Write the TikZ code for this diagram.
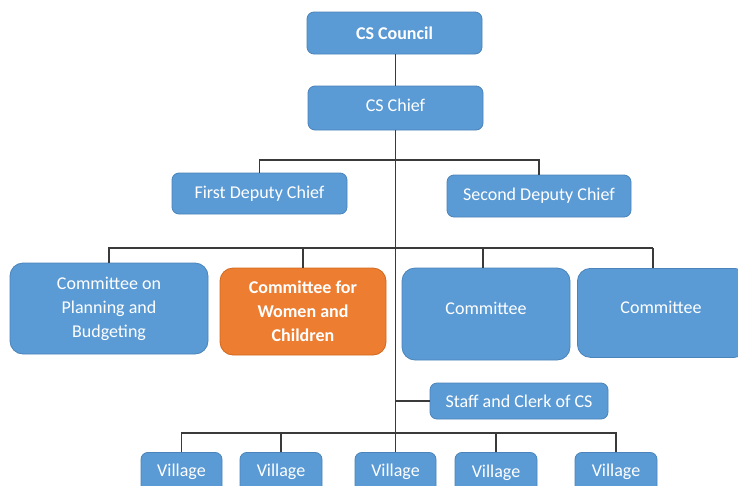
\documentclass[tikz,border=0pt]{standalone}
\usepackage{fontspec}
\setmainfont{Carlito}
\usetikzlibrary{calc}
\definecolor{boxblue}{HTML}{5B9BD5}
\definecolor{boxblueline}{HTML}{4A84BA}
\definecolor{boxorange}{HTML}{ED7D31}
\definecolor{boxorangeline}{HTML}{D0691F}
\definecolor{linkgray}{HTML}{3A3A3A}
\tikzset{
  box/.style={draw=boxblueline, fill=boxblue, line width=0.8pt, rounded corners=7pt,
    text=white, font=\fontsize{18}{24}\selectfont, align=center, inner sep=0pt},
  bigbox/.style={box, rounded corners=13pt},
  orangebox/.style={bigbox, draw=boxorangeline, fill=boxorange, font=\fontsize{18}{24}\selectfont\bfseries},
  boxtext/.style={text=white, font=\fontsize{18}{24}\selectfont},
  link/.style={draw=linkgray, line width=1.1pt}
}
\begin{document}
\begin{tikzpicture}[x=1pt,y=-1pt]
\clip (0,0) rectangle (738,485);
\fill[white] (0,0) rectangle (738,485);
% nodes
\node[box, font=\fontsize{18}{24}\selectfont\bfseries, minimum width=175pt, minimum height=42pt] (council) at (394.5,33) {CS Council};
\node[box, minimum width=175pt, minimum height=44pt] (chief) at (395.5,108) {};
\node[boxtext] (chieft) at (395.5,105) {CS Chief};
\node[box, minimum width=175pt, minimum height=41pt] (d1) at (259.5,193.5) {First Deputy Chief};
\node[box, minimum width=184pt, minimum height=42pt] (d2) at (539,196) {Second Deputy Chief};
\node[bigbox, minimum width=198pt, minimum height=91pt] (c1) at (109,308.5) {Committee on\\Planning and\\Budgeting};
\node[orangebox, minimum width=166pt, minimum height=87pt] (c2) at (303,311.5) {Committee for\\Women and\\Children};
\node[bigbox, minimum width=168pt, minimum height=92pt] (c3) at (486,314) {};
\node[boxtext] (c3t) at (486,308) {Committee};
\node[bigbox, minimum width=170pt, minimum height=89pt, anchor=north west] (c4) at (577,268) {};
\node[boxtext] (c4t) at (661,307) {Committee};
\node[box, minimum width=178pt, minimum height=36pt] (staff) at (519,401) {Staff and Clerk of CS};
\node[box, minimum width=81pt, minimum height=42pt, anchor=north] (v1) at (181.5,452) {};
\node[box, minimum width=82pt, minimum height=42pt, anchor=north] (v2) at (281,452) {};
\node[box, minimum width=81pt, minimum height=42pt, anchor=north] (v3) at (395.5,452) {};
\node[box, minimum width=82pt, minimum height=42pt, anchor=north] (v4) at (496,452) {};
\node[box, minimum width=82pt, minimum height=42pt, anchor=north] (v5) at (616,452) {};
\node[boxtext] (v1t) at ($(v1.north)+(0,20)$) {Village};
\node[boxtext] (v2t) at ($(v2.north)+(0,20)$) {Village};
\node[boxtext] (v3t) at ($(v3.north)+(0,20)$) {Village};
\node[boxtext] (v4t) at ($(v4.north)+(0,21)$) {Village};
\node[boxtext] (v5t) at ($(v5.north)+(0,20)$) {Village};
% connectors
\coordinate (dbar) at (395.5,160);
\coordinate (cL) at (108,248);
\coordinate (cR) at (653,248);
\coordinate (c3top) at (483,268);
\coordinate (vbar) at (395.5,433);
\draw[link] (chief.north |- council.south) -- (chief.north);
\draw[link] (chief.south) -- (v3.north);
\draw[link] (d1.north) |- (dbar) -| (d2.north);
\draw[link] (cL) -- (cR);
\draw[link] (c1.north) -- (c1.north |- cL);
\draw[link] (c2.north) -- (c2.north |- cL);
\draw[link] (c3top) -- (c3top |- cL);
\draw[link] (cR) -- (cR |- c4.north);
\draw[link] (staff.west) -- (staff.west -| v3.north);
\draw[link] (v1.north) |- (vbar) -| (v5.north);
\draw[link] (v2.north) -- (v2.north |- vbar);
\draw[link] (v4.north) -- (v4.north |- vbar);
\end{tikzpicture}
\end{document}
